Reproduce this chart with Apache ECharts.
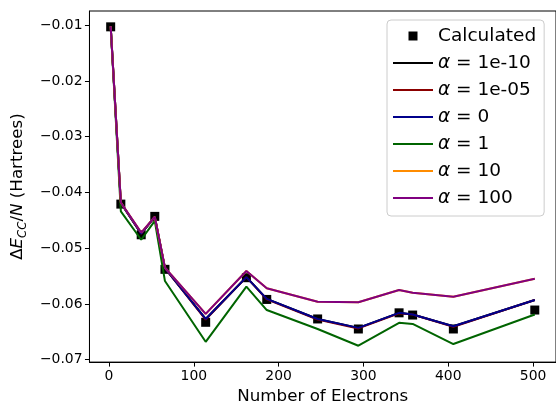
<!DOCTYPE html>
<html>
<head>
<meta charset="utf-8">
<script src="https://cdn.jsdelivr.net/npm/echarts@6/dist/echarts.min.js"></script>
<style>html,body{margin:0;padding:0;background:#fff}#c{width:556px;height:410px}</style>
</head>
<body>
<div id="c"></div>
<script>
const electrons = [2, 14, 38, 54, 66, 114, 162, 186, 246, 294, 342, 358, 406, 502];
const calculated = [-0.0103, -0.0421, -0.0476, -0.0443, -0.0538, -0.0633, -0.0553, -0.0592, -0.0627, -0.0645, -0.0616, -0.0620, -0.0645, -0.0611];
const alpha1em10 = [-0.0102, -0.0419, -0.0474, -0.0444, -0.0536, -0.0627, -0.0552, -0.0591, -0.0627, -0.0643, -0.0616, -0.0619, -0.0640, -0.0593];
const alpha1em05 = [-0.0102, -0.0419, -0.0474, -0.0444, -0.0536, -0.0628, -0.0552, -0.0592, -0.0628, -0.0644, -0.0617, -0.0619, -0.0641, -0.0593];
const alpha0 = [-0.0102, -0.0419, -0.0474, -0.0444, -0.0536, -0.0627, -0.0552, -0.0591, -0.0627, -0.0643, -0.0616, -0.0619, -0.0640, -0.0593];
const alpha1 = [-0.0102, -0.0434, -0.0485, -0.0451, -0.0559, -0.0668, -0.0569, -0.0611, -0.0645, -0.0675, -0.0634, -0.0636, -0.0672, -0.0619];
const alpha10 = [-0.0102, -0.0418, -0.0472, -0.0444, -0.0535, -0.0618, -0.0541, -0.0572, -0.0596, -0.0597, -0.0575, -0.0580, -0.0587, -0.0555];
const alpha100 = [-0.0102, -0.0418, -0.0472, -0.0444, -0.0535, -0.0618, -0.0541, -0.0572, -0.0596, -0.0597, -0.0575, -0.0580, -0.0587, -0.0555];
const xTicks = [0, 100, 200, 300, 400, 500];
const yTicks = [-0.07, -0.06, -0.05, -0.04, -0.03, -0.02, -0.01];

const lineDefs = [
  {name: 'α = 1e-10', data: alpha1em10, color: '#000000'},
  {name: 'α = 1e-05', data: alpha1em05, color: '#8b0000'},
  {name: 'α = 0', data: alpha0, color: '#00008b'},
  {name: 'α = 1', data: alpha1, color: '#006400'},
  {name: 'α = 10', data: alpha10, color: '#ff8c00'},
  {name: 'α = 100', data: alpha100, color: '#800080'}
];
const pair = arr => electrons.map((x, i) => [x, arr[i]]);
const FONT = 'DejaVu Sans';
const minus = s => s.replace('-', '\u2212');
const LINE_ICON = 'path://M0,0L40,0L40,2L0,2Z';
const SQUARE_ICON = 'path://M0,0M14,14M2.5,2.5L11.5,2.5L11.5,11.5L2.5,11.5Z';

const series = [{
  name: 'Calculated', type: 'scatter', data: pair(calculated),
  symbol: 'rect', symbolSize: 9, itemStyle: {color: '#000', opacity: 1}, z: 1
}].concat(lineDefs.map(d => ({
  name: d.name, type: 'line', data: pair(d.data), symbol: 'none', showSymbol: false,
  lineStyle: {color: d.color, width: 2}, itemStyle: {color: d.color}, z: 2
})));

const chart = echarts.init(document.getElementById('c'), null, {renderer: 'canvas'});
chart.setOption({
  animation: false,
  backgroundColor: '#fff',
  textStyle: {fontFamily: FONT},
  grid: {left: 85, top: 11, right: -6, bottom: 44, show: true, borderColor: '#000', borderWidth: 1},
  xAxis: {
    type: 'value', min: -23, max: 527,
    name: 'Number of Electrons', nameLocation: 'middle', nameGap: 24,
    nameTextStyle: {fontSize: 16.7, color: '#000', fontFamily: FONT},
    axisLine: {onZero: false, lineStyle: {color: '#000', width: 1}},
    axisTick: {show: true, length: 4.5, lineStyle: {color: '#000'}, customValues: xTicks},
    axisLabel: {fontSize: 13.9, color: '#000', margin: 7, fontFamily: FONT, customValues: xTicks, formatter: v => String(v)},
    splitLine: {show: false}
  },
  yAxis: {
    type: 'value', min: -0.07044, max: -0.00746,
    name: '{n|Δ}{i|E}{s|CC}{n|/}{i|N}{n| (Hartrees)}', nameLocation: 'middle', nameGap: 52, nameRotate: 90,
    nameTextStyle: {
      fontSize: 16.7, color: '#000', fontFamily: FONT,
      rich: {
        n: {fontSize: 16.7, fontFamily: FONT, color: '#000', verticalAlign: 'top', lineHeight: 20},
        i: {fontSize: 16.7, fontFamily: FONT, color: '#000', fontStyle: 'italic', verticalAlign: 'top', lineHeight: 20},
        s: {fontSize: 11.7, fontFamily: FONT, color: '#000', fontStyle: 'italic', verticalAlign: 'bottom', lineHeight: 14, padding: [9, 0, 0, 0]}
      }
    },
    axisLine: {show: true, onZero: false, lineStyle: {color: '#000', width: 1}},
    axisTick: {show: true, length: 4.5, lineStyle: {color: '#000'}, customValues: yTicks},
    axisLabel: {fontSize: 13.9, color: '#000', margin: 7, fontFamily: FONT, customValues: yTicks, formatter: v => minus(v.toFixed(2))},
    splitLine: {show: false}
  },
  legend: {
    orient: 'vertical', left: 387, top: 20,
    padding: [6, 8, 8, 6], itemGap: 7, itemWidth: 40, itemHeight: 14, itemTextGap: 14,
    backgroundColor: 'rgba(255,255,255,0.8)', borderColor: '#cccccc', borderWidth: 1, borderRadius: 4,
    data: [{name: 'Calculated', icon: SQUARE_ICON}].concat(lineDefs.map(d => ({name: d.name, icon: LINE_ICON}))),
    formatter: name => name.startsWith('α') ? '{a|α}{t|' + name.slice(1) + '}' : '{t|' + name + '}',
    textStyle: {
      fontSize: 18.5, color: '#000', fontFamily: FONT, lineHeight: 20,
      rich: {
        a: {fontSize: 18.5, fontStyle: 'italic', fontFamily: FONT, color: '#000', lineHeight: 20},
        t: {fontSize: 18.5, fontFamily: FONT, color: '#000', lineHeight: 20}
      }
    }
  },
  series: series
});
</script>
</body>
</html>
